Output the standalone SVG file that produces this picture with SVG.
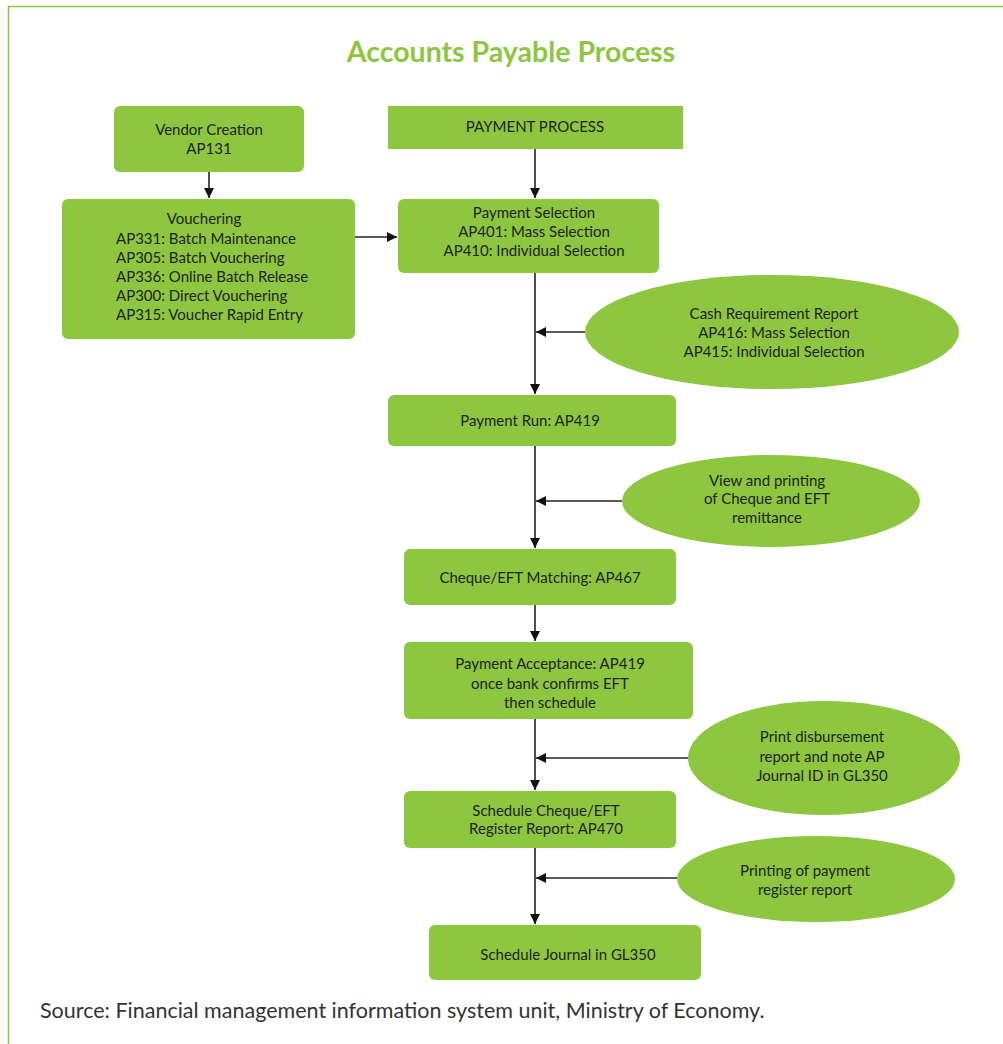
<svg xmlns="http://www.w3.org/2000/svg" width="1003" height="1044" viewBox="0 0 1003 1044">
<defs>
<style>
.box{fill:#8dc63f}
.t{font-family:Lato,"Open Sans",sans-serif;font-size:15px;fill:#222;text-anchor:middle}
.tl{font-family:Lato,"Open Sans",sans-serif;font-size:15px;fill:#222}
.c{stroke:#222;stroke-width:1.6;fill:none}
</style>
<marker id="ah" viewBox="0 0 10 10" refX="10" refY="5" markerWidth="10" markerHeight="10" markerUnits="userSpaceOnUse" orient="auto">
<path d="M0,0 L10,5 L0,10 z" fill="#111"/>
</marker>
</defs>
<rect width="1003" height="1044" fill="#fff"/>
<path d="M8.5,1044 V6.5 H1003" stroke="#8dc63f" stroke-width="1.5" fill="none"/>
<text x="511" y="62" font-family="Lato,'Open Sans',sans-serif" font-size="28.5" font-weight="bold" fill="#8dc63f" text-anchor="middle">Accounts Payable Process</text>

<g id="connectors">
<line class="c" x1="209" y1="172" x2="209" y2="198" marker-end="url(#ah)"/>
<line class="c" x1="355" y1="237" x2="397" y2="237" marker-end="url(#ah)"/>
<line class="c" x1="535" y1="149" x2="535" y2="198" marker-end="url(#ah)"/>
<line class="c" x1="535" y1="273" x2="535" y2="394" marker-end="url(#ah)"/>
<line class="c" x1="585" y1="332" x2="536" y2="332" marker-end="url(#ah)"/>
<line class="c" x1="535" y1="446" x2="535" y2="548" marker-end="url(#ah)"/>
<line class="c" x1="622" y1="501" x2="536" y2="501" marker-end="url(#ah)"/>
<line class="c" x1="535" y1="605" x2="535" y2="641" marker-end="url(#ah)"/>
<line class="c" x1="535" y1="719" x2="535" y2="790" marker-end="url(#ah)"/>
<line class="c" x1="688" y1="758" x2="536" y2="758" marker-end="url(#ah)"/>
<line class="c" x1="535" y1="848" x2="535" y2="924" marker-end="url(#ah)"/>
<line class="c" x1="677" y1="878" x2="536" y2="878" marker-end="url(#ah)"/>
</g>

<g id="vendor">
<rect class="box" x="114" y="106" width="190" height="66" rx="6"/>
<text class="t" x="209" y="135">Vendor Creation</text>
<text class="t" x="209" y="154">AP131</text>
</g>
<g id="payment-process">
<rect class="box" x="388" y="106" width="295" height="43"/>
<text class="t" x="535" y="132">PAYMENT PROCESS</text>
</g>
<g id="vouchering">
<rect class="box" x="62" y="199" width="293" height="140" rx="6"/>
<text class="t" x="204" y="224">Vouchering</text>
<text class="tl" x="116" y="244">AP331: Batch Maintenance</text>
<text class="tl" x="116" y="263">AP305: Batch Vouchering</text>
<text class="tl" x="116" y="282">AP336: Online Batch Release</text>
<text class="tl" x="116" y="301">AP300: Direct Vouchering</text>
<text class="tl" x="116" y="320">AP315: Voucher Rapid Entry</text>
</g>
<g id="payment-selection">
<rect class="box" x="398" y="199" width="261" height="74" rx="6"/>
<text class="t" x="534" y="218">Payment Selection</text>
<text class="t" x="534" y="237">AP401: Mass Selection</text>
<text class="t" x="534" y="256">AP410: Individual Selection</text>
</g>
<g id="cash-requirement">
<ellipse class="box" cx="772" cy="332" rx="187" ry="57"/>
<text class="t" x="774" y="319">Cash Requirement Report</text>
<text class="t" x="774" y="338">AP416: Mass Selection</text>
<text class="t" x="774" y="357">AP415: Individual Selection</text>
</g>
<g id="payment-run">
<rect class="box" x="388" y="395" width="288" height="51" rx="6"/>
<text class="t" x="530" y="426">Payment Run: AP419</text>
</g>
<g id="view-printing">
<ellipse class="box" cx="771" cy="501" rx="149" ry="46"/>
<text class="t" x="767" y="486">View and printing</text>
<text class="t" x="767" y="504">of Cheque and EFT</text>
<text class="t" x="767" y="523">remittance</text>
</g>
<g id="cheque-matching">
<rect class="box" x="404" y="549" width="272" height="56" rx="6"/>
<text class="t" x="540" y="583">Cheque/EFT Matching: AP467</text>
</g>
<g id="payment-acceptance">
<rect class="box" x="404" y="642" width="289" height="77" rx="6"/>
<text class="t" x="550" y="669">Payment Acceptance: AP419</text>
<text class="t" x="550" y="689">once bank confirms EFT</text>
<text class="t" x="550" y="708">then schedule</text>
</g>
<g id="print-disbursement">
<ellipse class="box" cx="824" cy="758" rx="136" ry="57"/>
<text class="t" x="822" y="742">Print disbursement</text>
<text class="t" x="822" y="762">report and note AP</text>
<text class="t" x="822" y="781">Journal ID in GL350</text>
</g>
<g id="schedule-register">
<rect class="box" x="404" y="791" width="272" height="57" rx="6"/>
<text class="t" x="546" y="816">Schedule Cheque/EFT</text>
<text class="t" x="546" y="834">Register Report: AP470</text>
</g>
<g id="printing-register">
<ellipse class="box" cx="816" cy="879" rx="139" ry="43"/>
<text class="t" x="805" y="876">Printing of payment</text>
<text class="t" x="805" y="895">register report</text>
</g>
<g id="schedule-journal">
<rect class="box" x="429" y="925" width="272" height="55" rx="6"/>
<text class="t" x="568" y="960">Schedule Journal in GL350</text>
</g>
<text x="40" y="1018" font-family="Lato,'Open Sans',sans-serif" font-size="21.5" fill="#333">Source: Financial management information system unit, Ministry of Economy.</text>
</svg>
